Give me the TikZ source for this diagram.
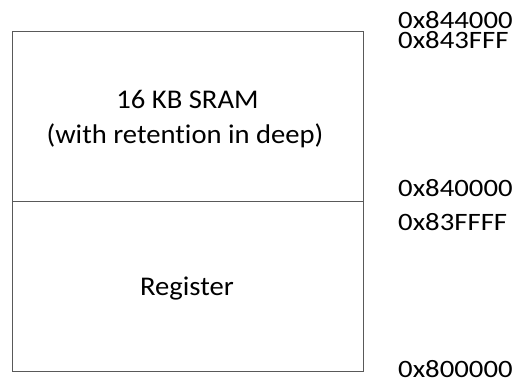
\documentclass[tikz,border=0pt]{standalone}
\usepackage{fontspec}
\usepackage{graphicx}
\setmainfont{Carlito}[Ligatures=NoCommon, RawFeature={-liga;-dlig}]
\newcommand{\widetext}[1]{\scalebox{1.06}[1]{#1}}
\newcommand{\wideaddr}[1]{\scalebox{1.15}[1]{#1}}
\begin{document}
\begin{tikzpicture}[x=1pt,y=-1pt,
    region/.style={draw=black!65, line width=0.9pt, minimum width=351pt,
      minimum height=170pt, anchor=north west, inner sep=0pt},
    label/.style={anchor=base, inner sep=0pt,
      font=\fontsize{27}{31}\selectfont},
    addr/.style={anchor=base west, inner sep=0pt, text depth=0pt,
      text height=16pt, font=\fontsize{25}{28}\selectfont}]
  \useasboundingbox (0,0) rectangle (520,383);
  % memory regions
  \node[region] (sram) at (12,31) {};
  \node[region] (reg) at (12,201) {};
  \node[label] (sramA) at (187.5,108) {\widetext{16 KB SRAM}};
  \node[label] (sramB) at (185,143) {\widetext{(with retention in deep)}};
  \node[label] (regA) at (187,295) {\widetext{Register}};
  % address labels
  \node[addr] (a1) at (398,28) {\wideaddr{0x844000}};
  \node[addr] (a2) at (398,48) {\wideaddr{0x843FFF}};
  \node[addr] (a3) at (398,196) {\wideaddr{0x840000}};
  \node[addr] (a4) at (398,230) {\wideaddr{0x83FFFF}};
  \node[addr] (a5) at (398,377) {\wideaddr{0x800000}};
\end{tikzpicture}
\end{document}
